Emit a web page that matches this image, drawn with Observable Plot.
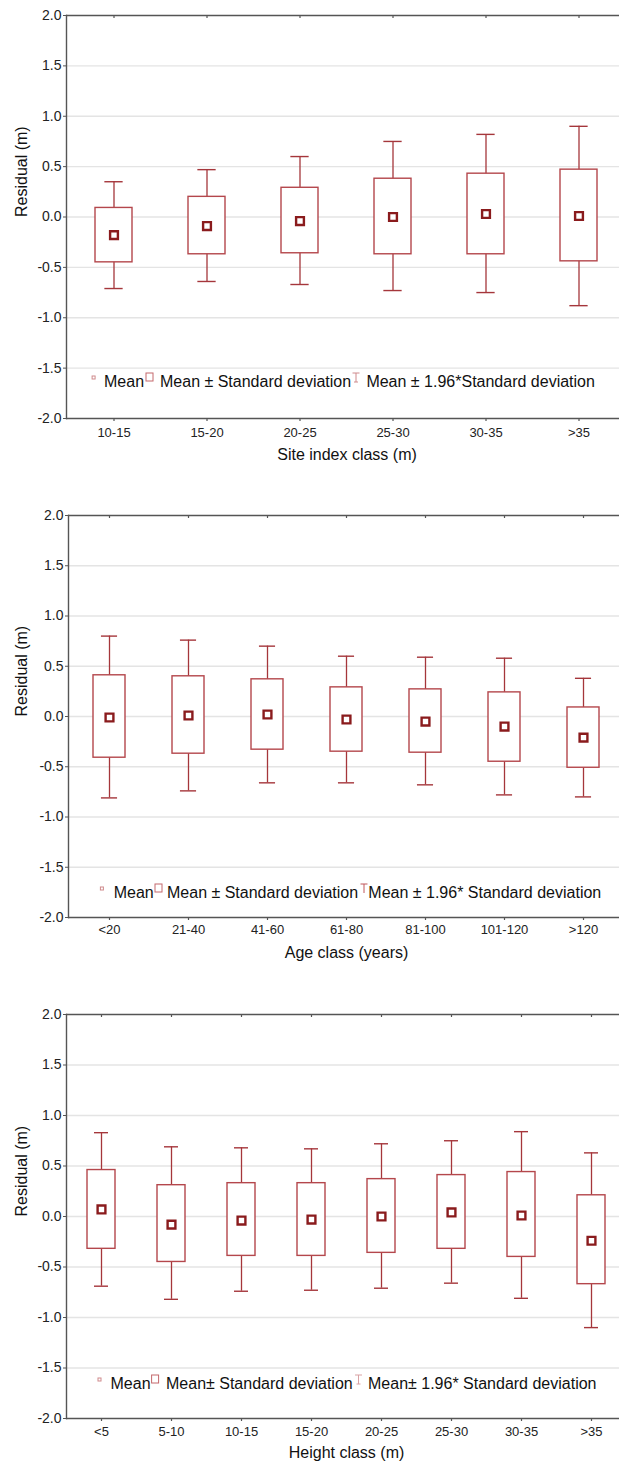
<!DOCTYPE html>
<html>
<head>
<meta charset="utf-8">
<script src="https://cdn.jsdelivr.net/npm/d3@7"></script>
<script src="https://cdn.jsdelivr.net/npm/@observablehq/plot@0.6"></script>
<style>
  html, body { margin: 0; padding: 0; background: #fff; overflow: hidden; }
  .panel { width: 619px; overflow: hidden; }
  .panel svg { display: block; overflow: hidden; max-width: none !important; }
</style>
</head>
<body>
<div id="p1" class="panel"></div>
<div id="p2" class="panel"></div>
<div id="p3" class="panel"></div>
<script>
// ---------- Data ----------
const yTicks = [-2, -1.5, -1, -0.5, 0, 0.5, 1, 1.5, 2];
const gridTicks = [-1.5, -1, -0.5, 0, 0.5, 1, 1.5];

// Panel 1: site index class
const siteClasses = ["10-15", "15-20", "20-25", "25-30", "30-35", ">35"];
const siteMean   = [-0.18, -0.09, -0.04, 0.00, 0.03, 0.01];
const siteSdLow  = [-0.45, -0.37, -0.36, -0.37, -0.37, -0.44];
const siteSdHigh = [0.09, 0.20, 0.29, 0.38, 0.43, 0.47];
const siteCiLow  = [-0.71, -0.64, -0.67, -0.73, -0.75, -0.88];
const siteCiHigh = [0.35, 0.47, 0.60, 0.75, 0.82, 0.90];

// Panel 2: age class
const ageClasses = ["<20", "21-40", "41-60", "61-80", "81-100", "101-120", ">120"];
const ageMean   = [-0.01, 0.01, 0.02, -0.03, -0.05, -0.10, -0.21];
const ageSdLow  = [-0.41, -0.37, -0.33, -0.35, -0.36, -0.45, -0.51];
const ageSdHigh = [0.41, 0.40, 0.37, 0.29, 0.27, 0.24, 0.09];
const ageCiLow  = [-0.81, -0.74, -0.66, -0.66, -0.68, -0.78, -0.80];
const ageCiHigh = [0.80, 0.76, 0.70, 0.60, 0.59, 0.58, 0.38];

// Panel 3: height class
const heightClasses = ["<5", "5-10", "10-15", "15-20", "20-25", "25-30", "30-35", ">35"];
const heightMean   = [0.07, -0.08, -0.04, -0.03, 0.00, 0.04, 0.01, -0.24];
const heightSdLow  = [-0.32, -0.45, -0.39, -0.39, -0.36, -0.32, -0.40, -0.67];
const heightSdHigh = [0.46, 0.31, 0.33, 0.33, 0.37, 0.41, 0.44, 0.21];
const heightCiLow  = [-0.69, -0.82, -0.74, -0.73, -0.71, -0.66, -0.81, -1.10];
const heightCiHigh = [0.83, 0.69, 0.68, 0.67, 0.72, 0.75, 0.84, 0.63];

const yLabel = "Residual (m)";
const xTitles = ["Site index class (m)", "Age class (years)", "Height class (m)"];
const legendTexts = [
  ["Mean", "Mean ± Standard deviation", "Mean ± 1.96*Standard deviation"],
  ["Mean", "Mean ± Standard deviation", "Mean ± 1.96* Standard deviation"],
  ["Mean", "Mean± Standard deviation", "Mean± 1.96* Standard deviation"]
];

// ---------- Styling ----------
const FONT = "'Liberation Sans', Arial, sans-serif";
const BOX = "#b4474c";
const WHISK = "#a5363b";
const MEAN = "#8a1b1d";
const AXIS = "#555";
const GRID = "#e4e4e4";

function table(cats, mean, sdLo, sdHi, ciLo, ciHi) {
  return cats.map((c, i) => ({cat: c, mean: mean[i], sdLo: sdLo[i], sdHi: sdHi[i], ciLo: ciLo[i], ciHi: ciHi[i]}));
}

function legendMark(cfg) {
  return (index, scales, values, dim) => {
    const g = d3.create("svg:g").attr("font-family", FONT).attr("font-size", 16)
      .attr("fill", "#111").attr("text-anchor", "start");
    const cy = dim.height - dim.marginBottom + cfg.legendDy;
    const L = cfg.legend;
    // mean icon
    g.append("rect").attr("x", L.meanIcon - 1.5).attr("y", cy - 5).attr("width", 3).attr("height", 3)
      .attr("fill", "none").attr("stroke", "#cf8a8c").attr("stroke-width", 1);
    g.append("text").attr("x", L.t1).attr("y", cy).attr("dy", "0.35em").text(cfg.texts[0]);
    // box icon
    g.append("rect").attr("x", L.boxIcon).attr("y", cy - 8).attr("width", 7).attr("height", 8)
      .attr("fill", "none").attr("stroke", "#c4686c").attr("stroke-width", 1);
    g.append("text").attr("x", L.t2).attr("y", cy).attr("dy", "0.35em").text(cfg.texts[1]);
    // whisker icon
    const wx = L.whiskIcon, wc = cfg.whiskColor;
    g.append("line").attr("x1", wx - 3.5).attr("x2", wx + 3.5).attr("y1", cy - 8).attr("y2", cy - 8).attr("stroke", wc);
    g.append("line").attr("x1", wx).attr("x2", wx).attr("y1", cy - 8).attr("y2", cy + 1).attr("stroke", wc);
    if (cfg.whiskBottom) g.append("line").attr("x1", wx - 2).attr("x2", wx + 2).attr("y1", cy + 1).attr("y2", cy + 1).attr("stroke", wc);
    g.append("text").attr("x", L.t3).attr("y", cy).attr("dy", "0.35em").text(cfg.texts[2]);
    return g.node();
  };
}

function panel(cfg) {
  const data = table(...cfg.arrays);
  const n = data.length;
  const step = (cfg.width - cfg.marginLeft - cfg.marginRight) / n;
  const capInset = 0.1 * step;
  const plotH = cfg.height - cfg.marginTop - cfg.marginBottom;
  return Plot.plot({
    width: cfg.width,
    height: cfg.height,
    marginLeft: cfg.marginLeft,
    marginRight: cfg.marginRight,
    marginTop: cfg.marginTop,
    marginBottom: cfg.marginBottom,
    style: {fontFamily: FONT, background: "#fff", color: "#222", maxWidth: "none"},
    x: {type: "band", domain: data.map(d => d.cat), paddingInner: 0.6, paddingOuter: 0.3, axis: null},
    y: {domain: [-2, 2], axis: null},
    marks: [
      Plot.ruleY(gridTicks, {y: d => d, stroke: GRID, strokeWidth: 1.4}),
      Plot.ruleY([2, -2], {y: d => d, stroke: AXIS, strokeWidth: 1.4}),
      Plot.frame({anchor: "left", stroke: AXIS, strokeWidth: 1.4}),
      Plot.tickX(data, {x: "cat", stroke: AXIS, strokeWidth: 1.2, insetBottom: plotH - 3}),
      Plot.axisX({tickSize: 3, tickPadding: cfg.xPad, fontSize: 13, label: null, stroke: AXIS, strokeWidth: 1.2}),
      Plot.axisY({ticks: yTicks, tickFormat: d => d.toFixed(1), tickSize: 3, tickPadding: 2, fontSize: 14, label: null, stroke: AXIS}),
      Plot.text([yLabel], {text: d => d, frameAnchor: "left", dx: cfg.yTitleDx, rotate: -90, fontSize: 16, fill: "#111"}),
      Plot.text([cfg.xTitle], {text: d => d, frameAnchor: "bottom", dy: cfg.xTitleDy, fontSize: 16, fill: "#111"}),
      Plot.ruleX(data, {x: "cat", y1: "ciLo", y2: "ciHi", stroke: WHISK, strokeWidth: 1.3}),
      Plot.tickY(data, {x: "cat", y: "ciLo", stroke: WHISK, strokeWidth: 1.4, insetLeft: capInset, insetRight: capInset}),
      Plot.tickY(data, {x: "cat", y: "ciHi", stroke: WHISK, strokeWidth: 1.4, insetLeft: capInset, insetRight: capInset}),
      Plot.barY(data, {x: "cat", y1: "sdLo", y2: "sdHi", fill: "#fff", stroke: BOX, strokeWidth: 1.4}),
      Plot.dot(data, {x: "cat", y: "mean", symbol: "square", r: 4.4, fill: "#fff", stroke: MEAN, strokeWidth: 2.4}),
      legendMark(cfg)
    ]
  });
}

const panels = [
  {el: "#p1", arrays: [siteClasses, siteMean, siteSdLow, siteSdHigh, siteCiLow, siteCiHigh],
   width: 627, height: 500, marginLeft: 66, marginRight: 0, marginTop: 15, marginBottom: 82,
   xPad: 6, xTitle: xTitles[0], xTitleDy: 41, yTitleDx: -45, legendDy: -37, texts: legendTexts[0],
   whiskColor: "#cf8a8c", whiskBottom: true,
   legend: {meanIcon: 93.6, t1: 104, boxIcon: 146, t2: 160, whiskIcon: 356, t3: 366.4}},
  {el: "#p2", arrays: [ageClasses, ageMean, ageSdLow, ageSdHigh, ageCiLow, ageCiHigh],
   width: 624, height: 500, marginLeft: 68, marginRight: 0, marginTop: 15, marginBottom: 83,
   xPad: 4, xTitle: xTitles[1], xTitleDy: 40, yTitleDx: -47, legendDy: -25, texts: legendTexts[1],
   whiskColor: "#c0565b", whiskBottom: false,
   legend: {meanIcon: 101.9, t1: 113.7, boxIcon: 155, t2: 167, whiskIcon: 364, t3: 368.3}},
  {el: "#p3", arrays: [heightClasses, heightMean, heightSdLow, heightSdHigh, heightCiLow, heightCiHigh],
   width: 626, height: 470, marginLeft: 66, marginRight: 0, marginTop: 14, marginBottom: 52,
   xPad: 5, xTitle: xTitles[2], xTitleDy: 39, yTitleDx: -45, legendDy: -35, texts: legendTexts[2],
   whiskColor: "#d9a2a4", whiskBottom: true,
   legend: {meanIcon: 99.5, t1: 110.5, boxIcon: 151.6, t2: 166, whiskIcon: 358.5, t3: 368}}
];

for (const cfg of panels) {
  document.querySelector(cfg.el).appendChild(panel(cfg));
}
</script>
</body>
</html>
